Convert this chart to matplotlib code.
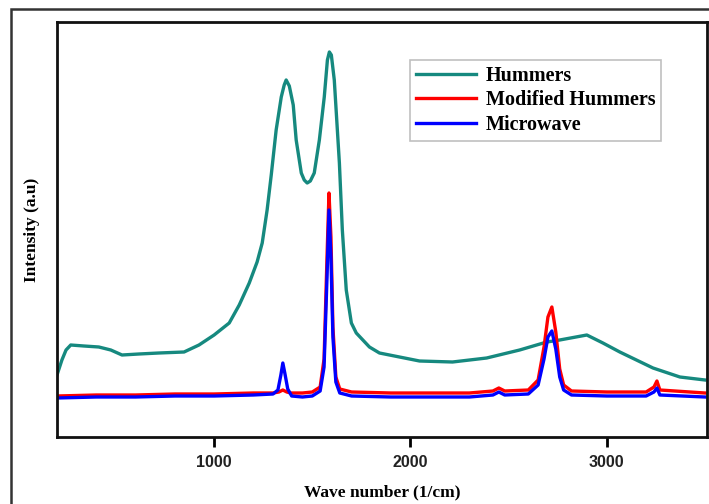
import matplotlib
matplotlib.use("Agg")
import matplotlib.pyplot as plt
from matplotlib.patches import Rectangle

# Raman spectra (wave number in 1/cm, intensity in a.u.)
hummers_x = [200, 225, 246, 270, 337, 413, 474, 531, 617, 719, 847, 923, 1000,
             1077, 1128, 1179, 1219, 1245, 1270, 1291, 1316, 1342, 1357, 1367,
             1383, 1403, 1418, 1444, 1459, 1474, 1490, 1510, 1536, 1561, 1577,
             1587, 1597, 1612, 1638, 1653, 1673, 1699, 1724, 1791, 1842, 1944,
             2046, 2214, 2388, 2556, 2694, 2760, 2898, 2980, 3066, 3235, 3372,
             3500]
hummers_y = [62, 77, 87, 92, 91, 90, 87, 82, 83, 84, 85, 92, 102,
             114, 132, 154, 175, 194, 227, 262, 307, 340, 352, 357,
             351, 332, 297, 264, 257, 254, 256, 264, 297, 340, 377,
             385, 382, 357, 274, 207, 147, 114, 104, 90, 84, 80,
             76, 75, 79, 87, 95, 97, 102, 94, 85, 69, 60,
             57]

modified_x = [200, 400, 600, 800, 1000, 1200, 1300, 1330, 1350, 1370, 1390,
              1450, 1500, 1540, 1560, 1575, 1585, 1595, 1605, 1620, 1640, 1700,
              1900, 2100, 2300, 2420, 2450, 2480, 2600, 2650, 2680, 2700, 2720,
              2740, 2760, 2780, 2820, 3000, 3200, 3240, 3255, 3270, 3500]
modified_y = [41, 42, 42, 43, 43, 44, 44, 45, 47, 45, 44,
              44, 45, 50, 78, 180, 244, 200, 110, 60, 48, 45,
              44, 44, 44, 46, 49, 46, 47, 57, 90, 120, 130,
              105, 68, 52, 46, 45, 45, 50, 56, 47, 44]

microwave_x = [200, 400, 600, 800, 1000, 1200, 1300, 1325, 1340, 1350, 1360,
               1375, 1395, 1450, 1500, 1540, 1560, 1575, 1585, 1595, 1605, 1620,
               1640, 1700, 1900, 2100, 2300, 2420, 2450, 2480, 2600, 2650, 2680,
               2700, 2720, 2740, 2760, 2780, 2820, 3000, 3200, 3240, 3255, 3270,
               3500]
microwave_y = [39, 40, 40, 41, 41, 42, 43, 47, 62, 74, 64,
               48, 41, 40, 41, 46, 70, 160, 227, 180, 100, 55,
               44, 41, 40, 40, 40, 42, 45, 42, 43, 52, 78,
               100, 106, 88, 60, 47, 42, 41, 41, 45, 49, 42,
               40]

TEAL = "#16897f"

fig = plt.figure(figsize=(7.09, 5.04), dpi=100)
ax = fig.add_axes([57 / 709, 1 - 437 / 504, 650 / 709, 415 / 504])

# outer frame around the whole figure
frame = Rectangle((11 / 709, -0.05), 1.2, 1 - 9 / 504 + 0.05,
                  transform=fig.transFigure, fill=False,
                  edgecolor="#333333", linewidth=1.8, zorder=0)
fig.patches.append(frame)

ax.plot(hummers_x, hummers_y, color=TEAL, lw=2.4, label="Hummers")
ax.plot(modified_x, modified_y, color="#ff0000", lw=2.4, label="Modified Hummers")
ax.plot(microwave_x, microwave_y, color="#0000ff", lw=2.4, label="Microwave")

ax.set_xlim(200, 3510)
ax.set_ylim(0, 415)
ax.set_xticks([1000, 2000, 3000])
ax.set_yticks([])
ax.tick_params(axis="x", direction="out", length=7, width=2, pad=6,
               labelsize=11.5, labelcolor="#222222")
for lab in ax.get_xticklabels():
    lab.set_fontfamily("Liberation Sans")
    lab.set_fontweight("bold")
for spine in ax.spines.values():
    spine.set_linewidth(2)
    spine.set_color("#111111")

ax.set_xlabel("Wave number (1/cm)", fontfamily="Liberation Serif",
              fontweight="bold", fontsize=12.5, labelpad=10)
ax.set_ylabel("Intensity (a.u)", fontfamily="Liberation Serif",
              fontweight="bold", fontsize=12.5, labelpad=12)

leg = ax.legend(loc="upper left", bbox_to_anchor=(353 / 650, 1 - 38 / 415),
                frameon=True, fancybox=False, handlelength=3.0,
                handletextpad=0.45, labelspacing=0.22, borderpad=0.3,
                borderaxespad=0.0,
                prop={"family": "Liberation Serif", "weight": "bold", "size": 14.5})
leg.get_frame().set_edgecolor("#b0b0b0")
leg.get_frame().set_linewidth(1.2)

fig.savefig("out.png", dpi=100)
